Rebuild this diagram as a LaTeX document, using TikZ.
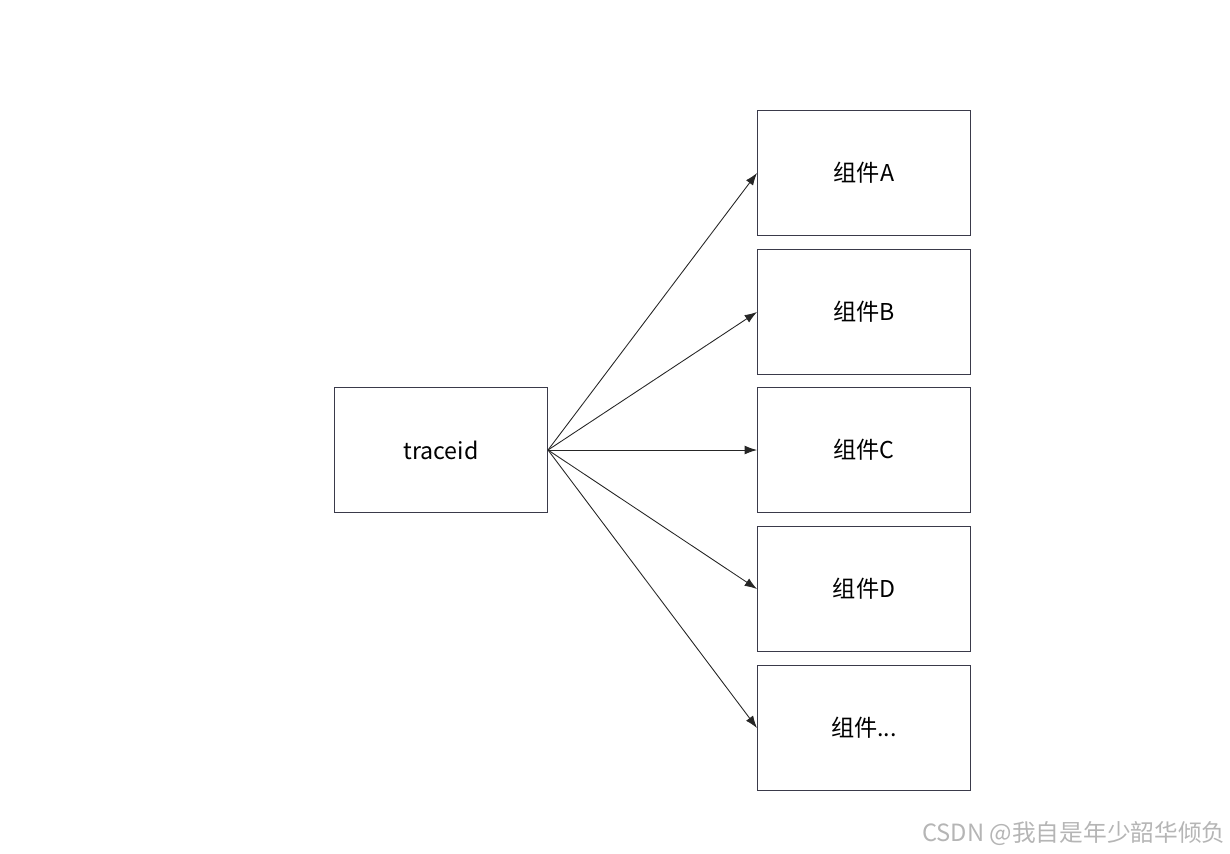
\documentclass[tikz,border=0pt]{standalone}
\usepackage{fontspec}
\setmainfont{Noto Sans CJK SC}
\usetikzlibrary{arrows.meta}
\definecolor{boxline}{HTML}{3A3A4A}
\definecolor{wm}{HTML}{B5B5B5}
\begin{document}
\begin{tikzpicture}[x=0.02cm,y=-0.02cm,
  box/.style={draw=boxline,line width=0.6pt,minimum width=4.26cm,minimum height=2.5cm,inner sep=0pt,font=\fontsize{13.2pt}{15pt}\selectfont,anchor=north west},
  lbl/.style={font=\fontsize{13.2pt}{15pt}\selectfont},
  conn/.style={draw=black!85,line width=0.5pt,-{Latex[length=7pt,width=5pt]}}]
\useasboundingbox (0,0) rectangle (1230,854);
\node[box] (t) at (334,387) {};
\node[lbl] (tl) at (t.center) {traceid};
\node[box] (a) at (757,110) {};
\node[lbl] (al) at (a.center) {组件A};
\node[box] (b) at (757,249) {};
\node[lbl] (bl) at (b.center) {组件B};
\node[box] (c) at (757,387) {};
\node[lbl] (cl) at (c.center) {组件C};
\node[box] (d) at (757,526) {};
\node[lbl] (dl) at (d.center) {组件D};
\node[box] (e) at (757,665) {};
\node[lbl] (el) at (e.center) {组件...};
\coordinate (s) at (t.east);
\draw[conn] (s) -- (a.west);
\draw[conn] (s) -- (b.west);
\draw[conn] (s) -- (c.west);
\draw[conn] (s) -- (d.west);
\draw[conn] (s) -- (e.west);
\node[anchor=east,text=wm,font=\fontsize{13.5pt}{15pt}\selectfont,inner sep=0pt] (w) at (1226,834) {CSDN @我自是年少韶华倾负};
\end{tikzpicture}
\end{document}
